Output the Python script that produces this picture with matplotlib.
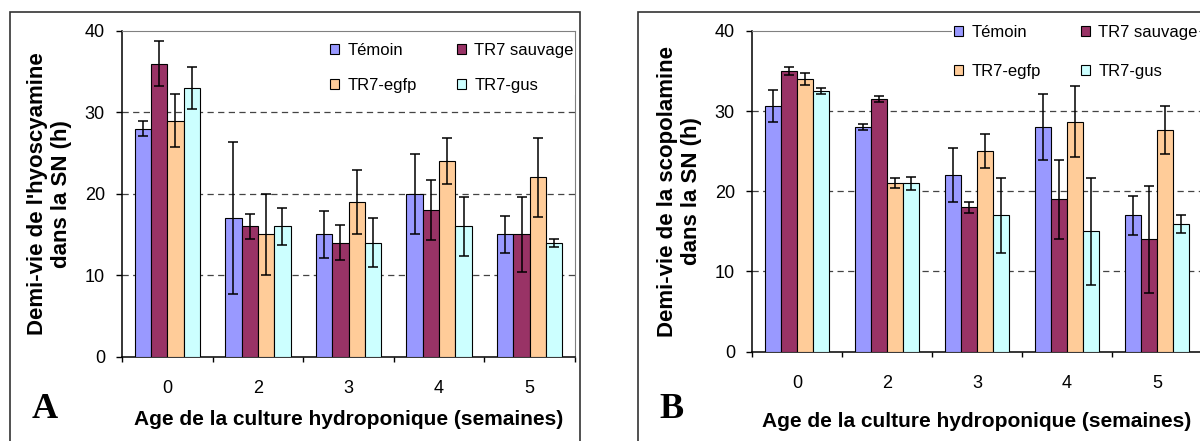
import numpy as np
import matplotlib.pyplot as plt
from matplotlib.patches import Patch, Rectangle

plt.rcParams['font.family'] = ['Liberation Sans', 'DejaVu Sans']

weeks = ['0', '2', '3', '4', '5']
series = ['Témoin', 'TR7 sauvage', 'TR7-egfp', 'TR7-gus']
colors = ['#9999FF', '#993366', '#FFCC99', '#CCFFFF']

# A : hyoscyamine half-life (h)
hyo_temoin = [28, 17, 15, 20, 15]
hyo_sauvage = [36, 16, 14, 18, 15]
hyo_egfp = [29, 15, 19, 24, 22]
hyo_gus = [33, 16, 14, 16, 14]
hyo_temoin_err = [0.9, 9.3, 2.9, 4.9, 2.3]
hyo_sauvage_err = [2.8, 1.5, 2.2, 3.7, 4.6]
hyo_egfp_err = [3.2, 5.0, 3.9, 2.8, 4.8]
hyo_gus_err = [2.6, 2.3, 3.0, 3.6, 0.5]

# B : scopolamine half-life (h)
sco_temoin = [30.6, 28, 22, 28, 17]
sco_sauvage = [35, 31.5, 18, 19, 14]
sco_egfp = [34, 21, 25, 28.7, 27.6]
sco_gus = [32.5, 21, 17, 15, 15.9]
sco_temoin_err = [2.0, 0.4, 3.4, 4.1, 2.4]
sco_sauvage_err = [0.5, 0.4, 0.7, 4.9, 6.7]
sco_egfp_err = [0.7, 0.6, 2.1, 4.4, 3.0]
sco_gus_err = [0.35, 0.8, 4.7, 6.7, 1.1]

W, H = 1200, 441
fig = plt.figure(figsize=(12, 4.41), dpi=100)

# panel frames
fig.patches.append(Rectangle((10 / W, -0.05), 570 / W, 1.05 - 12 / H, transform=fig.transFigure,
                             fill=False, edgecolor='#333333', lw=1.2))
fig.patches.append(Rectangle((638 / W, -0.05), 0.5, 1.05 - 12 / H, transform=fig.transFigure,
                             fill=False, edgecolor='#333333', lw=1.2))


def draw(ax, vals, errs, ylabel, leg_xy, leg_space, xlab_y):
    x = np.arange(len(weeks))
    w = 0.18
    for i, (v, e) in enumerate(zip(vals, errs)):
        ax.bar(x + (i - 1.5) * w, v, w, color=colors[i], edgecolor='black', lw=0.8,
               yerr=e, capsize=3.6, error_kw=dict(ecolor='black', elinewidth=1.1, capthick=1.1),
               zorder=3)
    ax.set_xlim(-0.5, len(weeks) - 0.5)
    ax.set_ylim(0, 40)
    ax.set_yticks([0, 10, 20, 30, 40])
    for yv in [10, 20, 30]:
        ax.axhline(yv, color='#444444', lw=0.9, ls=(0, (5, 3.5)), zorder=1)
    ax.set_xticks(x)
    ax.set_xticklabels(weeks)
    ax.set_xticks(np.arange(len(weeks) + 1) - 0.5, minor=True)
    ax.tick_params(axis='x', which='major', length=0, pad=17, labelsize=13)
    ax.tick_params(axis='x', which='minor', length=3.6, width=1, direction='out')
    ax.tick_params(axis='y', length=4.3, width=1, pad=8, labelsize=13)
    ax.spines['top'].set_color('#808080')
    ax.spines['right'].set_color('#808080')
    ax.spines['left'].set_linewidth(1.1)
    ax.spines['bottom'].set_linewidth(1.1)
    ax.set_ylabel(ylabel, fontsize=16, fontweight='bold', linespacing=1.2)
    ax.yaxis.set_label_coords(-0.11, 0.5)
    ax.set_xlabel('Age de la culture hydroponique (semaines)', fontsize=15, fontweight='bold')
    ax.xaxis.set_label_coords(0.5, xlab_y)

    handles = [Patch(facecolor=colors[k], edgecolor='black', lw=0.8) for k in [0, 2, 1, 3]]
    labels = [series[k] for k in [0, 2, 1, 3]]
    ax.legend(handles, labels, ncol=2, loc='upper left',
              bbox_to_anchor=(leg_xy[0] / W, 1 - leg_xy[1] / H), bbox_transform=fig.transFigure,
              fontsize=12, handlelength=0.55, handleheight=0.55, handletextpad=0.5,
              columnspacing=2.4, labelspacing=leg_space, borderpad=0.1,
              frameon=True, facecolor='white', edgecolor='none', framealpha=1, fancybox=False)


axA = fig.add_axes([122 / W, (H - 356.5) / H, 453 / W, 325.5 / H])
draw(axA, [hyo_temoin, hyo_sauvage, hyo_egfp, hyo_gus],
     [hyo_temoin_err, hyo_sauvage_err, hyo_egfp_err, hyo_gus_err],
     "Demi-vie de l'hyoscyamine\ndans la SN (h)", (320, 33), 1.2, -0.165)

axB = fig.add_axes([752 / W, (H - 351.5) / H, 450 / W, 320.5 / H])
draw(axB, [sco_temoin, sco_sauvage, sco_egfp, sco_gus],
     [sco_temoin_err, sco_sauvage_err, sco_egfp_err, sco_gus_err],
     "Demi-vie de la scopolamine\ndans la SN (h)", (944, 15), 1.45, -0.19)

fig.text(32 / W, 1 - 418 / H, 'A', family='Liberation Serif', fontweight='bold', fontsize=26)
fig.text(659 / W, 1 - 418 / H, 'B', family='Liberation Serif', fontweight='bold', fontsize=26)

fig.savefig('out.png', dpi=100)
